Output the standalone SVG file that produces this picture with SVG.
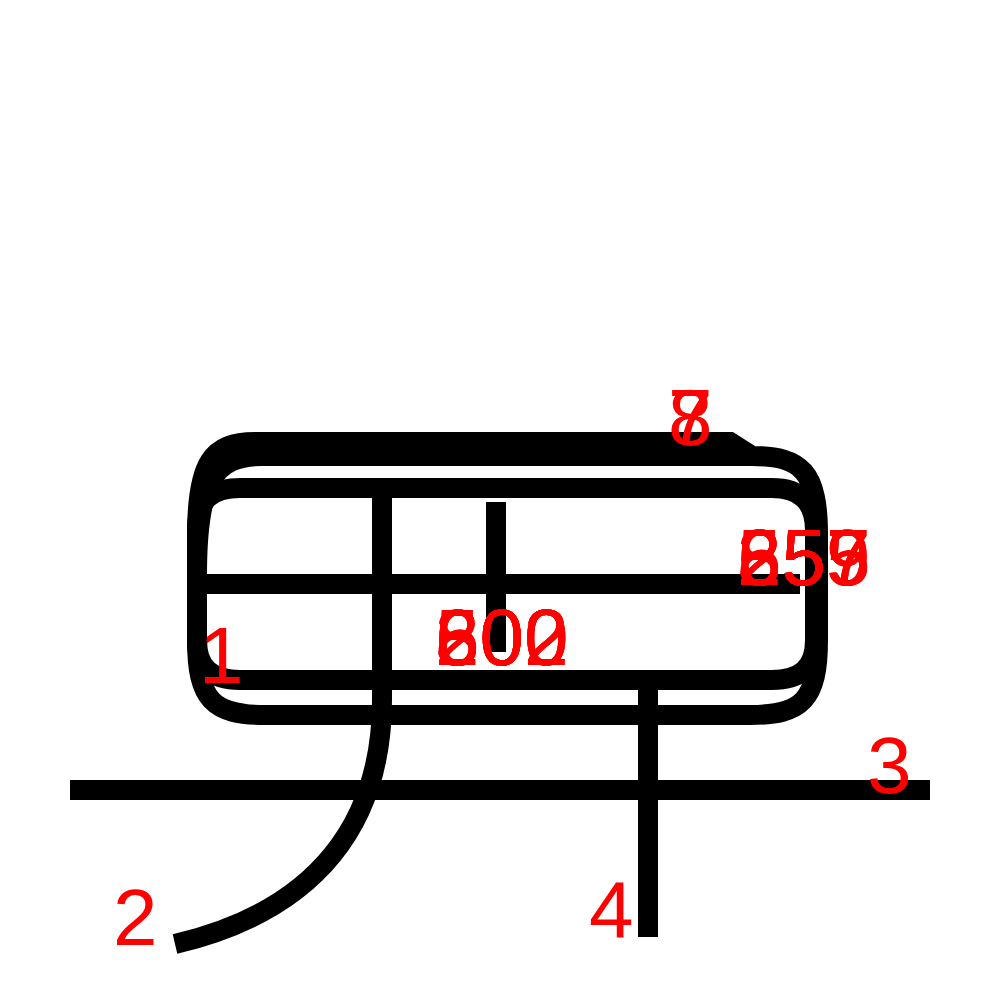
<svg xmlns="http://www.w3.org/2000/svg" width="1000" height="1000" viewBox="0 0 1000 1000">
<style>
.s{fill:none;stroke:#000;stroke-width:20;stroke-linecap:butt;stroke-linejoin:miter}
.n{font-family:"Liberation Sans",Arial,sans-serif;font-size:80px;fill:#ff0000}
</style>
<rect width="1000" height="1000" fill="#fff"/>
<g id="strokes">
<path id="outer" class="s" d="M197 535 C197 462 212 442 255 442 L730 442 L752 456 C802 456 818 472 818 535 L818 640 C818 700 802 715 750 715 L265 715 C213 715 197 700 197 640 Z"/>
<path id="topband" class="s" d="M197 575 C197 482 214 456 262 456 L755 456"/>
<path id="inner" class="s" d="M197 530 C197 500 212 488 240 488 L772 488 C800 488 815 502 815 530 L815 640 C815 668 800 680 772 680 L240 680 C212 680 197 668 197 640 Z"/>
<path id="mid" class="s" d="M200 584 L800 584"/>
<path id="v2" class="s" d="M496 502 L496 652"/>
<path id="v1curve" class="s" d="M382 488 L382 700 C382 820 320 910 175 944"/>
<path id="long" class="s" d="M70 790 L930 790"/>
<path id="v4" class="s" d="M648 680 L648 937"/>
</g>
<g id="labels">
<text class="n" x="199" y="683">1</text>
<text class="n" x="113" y="945">2</text>
<text class="n" x="867" y="793">3</text>
<text class="n" x="589" y="937">4</text>
<text class="n" x="668" y="445">7</text>
<text class="n" x="668" y="445">8</text>
<text class="n" x="435" y="665">500</text>
<text class="n" x="435" y="665">602</text>
<text class="n" x="435" y="665">302</text>
<text class="n" x="435" y="665">800</text>
<text class="n" x="435" y="665">600</text>
<text class="n" x="435" y="665">202</text>
<text class="n" x="737" y="585">255</text>
<text class="n" x="737" y="585">357</text>
<text class="n" x="737" y="585">259</text>
<text class="n" x="737" y="585">659</text>
<text class="n" x="737" y="585">855</text>
<text class="n" x="737" y="585">557</text>
</g>
</svg>
